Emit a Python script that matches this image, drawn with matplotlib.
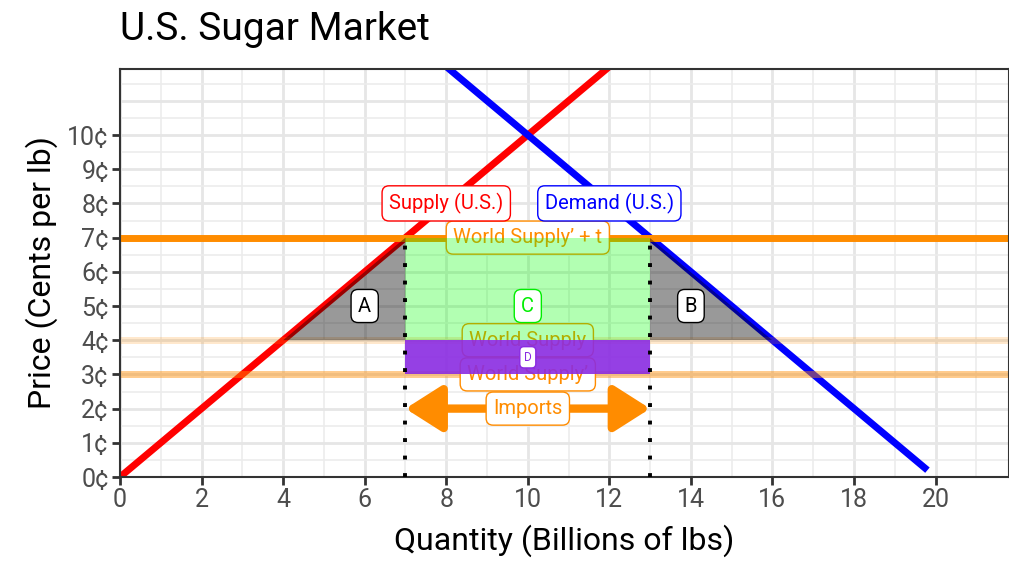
import matplotlib
matplotlib.use("Agg")
import matplotlib.pyplot as plt
from matplotlib.patches import FancyArrowPatch
from matplotlib.ticker import MultipleLocator

plt.rcParams["font.family"] = ["Roboto", "DejaVu Sans"]

# market curves
supply_q = [0, 12]
supply_p = [0, 12]
demand_q = [8, 19.8]
demand_p = [12, 0.2]

# world prices: with tariff, free trade, lowered
price_tariff = 7
price_world = 4
price_world_low = 3

# quantities at the tariff price
q_supplied = 7
q_demanded = 13

# deadweight triangles
tri_a_q = [4, 7, 7]
tri_a_p = [4, 7, 4]
tri_b_q = [13, 13, 16]
tri_b_p = [7, 4, 4]

y_ticks = list(range(0, 11))
y_tick_labels = [f"{v}¢" for v in y_ticks]
x_ticks = list(range(0, 21, 2))

ORANGE = "#ff8c00"

fig = plt.figure(figsize=(10.09, 5.64), dpi=100)
ax = fig.add_axes([120 / 1009, 1 - 477 / 564, 1 - 120 / 1009, (477 - 69) / 564])
ax.set_xlim(0, 21.8)
ax.set_ylim(0, 11.93)

# grid
ax.set_xticks(x_ticks)
ax.xaxis.set_minor_locator(MultipleLocator(1))
ax.set_yticks(y_ticks)
ax.set_yticklabels(y_tick_labels)
ax.yaxis.set_minor_locator(MultipleLocator(0.5))
for v in range(0, 22, 2):
    ax.axvline(v, color="#e6e6e6", lw=2.0, zorder=0)
for v in range(1, 22, 2):
    ax.axvline(v, color="#ececec", lw=1.2, zorder=0)
for v in range(0, 12):
    ax.axhline(v, color="#e6e6e6", lw=2.0, zorder=0)
    ax.axhline(v + 0.5, color="#ececec", lw=1.2, zorder=0)

ax.tick_params(axis="both", which="major", length=6, width=2, color="#333333",
               labelsize=18, labelcolor="#4d4d4d", pad=2)
ax.tick_params(axis="both", which="minor", length=0)
for s in ax.spines.values():
    s.set_color("#333333")
    s.set_linewidth(1.5)

# supply and demand
ax.plot(supply_q, supply_p, color="red", lw=5, solid_capstyle="butt", zorder=2)
ax.plot(demand_q, demand_p, color="blue", lw=5, solid_capstyle="butt", zorder=2)

# world price lines
ax.axhline(price_tariff, color=ORANGE, lw=5, zorder=2.5)
ax.axhline(price_world, color=ORANGE, lw=5, alpha=0.2, zorder=2.5)
ax.axhline(price_world_low, color=ORANGE, lw=5, alpha=0.45, zorder=2.5)


def label(x, y, text, color, size=14.5, edge=None, z=6):
    ax.text(x, y, text, color=color, fontsize=size, ha="center", va="center",
            zorder=z,
            bbox=dict(boxstyle="round,pad=0.35,rounding_size=0.35", fc="white",
                      ec=edge or color, lw=1))


label(10, price_tariff, "World Supply\u2019 + t", ORANGE, z=3)
label(10, price_world, "World Supply", ORANGE, z=3)
label(10, price_world_low, "World Supply\u2019", ORANGE, z=3)

# areas
ax.fill_between([q_supplied, q_demanded], price_world, price_tariff,
                color="#00ff00", alpha=0.3, lw=0, zorder=4)
ax.fill_between([q_supplied, q_demanded], price_world_low, price_world,
                color="#8a2be2", alpha=0.9, lw=0, zorder=4)
ax.fill(tri_a_q, tri_a_p, color="black", alpha=0.4, lw=0, zorder=4)
ax.fill(tri_b_q, tri_b_p, color="black", alpha=0.4, lw=0, zorder=4)

# dotted quantity markers
for q in (q_supplied, q_demanded):
    ax.plot([q, q], [0, price_tariff], color="black", lw=2.8,
            linestyle=(0, (1, 3.5)), dash_capstyle="butt", zorder=5)

# imports arrow
arrow = FancyArrowPatch((q_supplied, 2), (q_demanded, 2), arrowstyle="<|-|>",
                        mutation_scale=40, color=ORANGE, lw=6,
                        shrinkA=0, shrinkB=0, zorder=5)
arrow.set_arrowstyle("<|-|>", head_length=0.55, head_width=0.35)
ax.add_patch(arrow)

label(8, 8, "Supply (U.S.)", "red")
label(12, 8, "Demand (U.S.)", "blue")
label(6, 5, "A", "black")
label(14, 5, "B", "black")
label(10, 5, "C", "#00ee00")
label(10, 3.5, "D", "#8a2be2", size=8.5)
label(10, 2, "Imports", ORANGE)

ax.set_xlabel("Quantity (Billions of lbs)", fontsize=23, labelpad=9)
ax.set_ylabel("Price (Cents per lb)", fontsize=23, labelpad=7)
fig.text(120 / 1009, 1 - 40 / 564, "U.S. Sugar Market", fontsize=28,
         ha="left", va="baseline")

fig.savefig("out.png", dpi=100)
